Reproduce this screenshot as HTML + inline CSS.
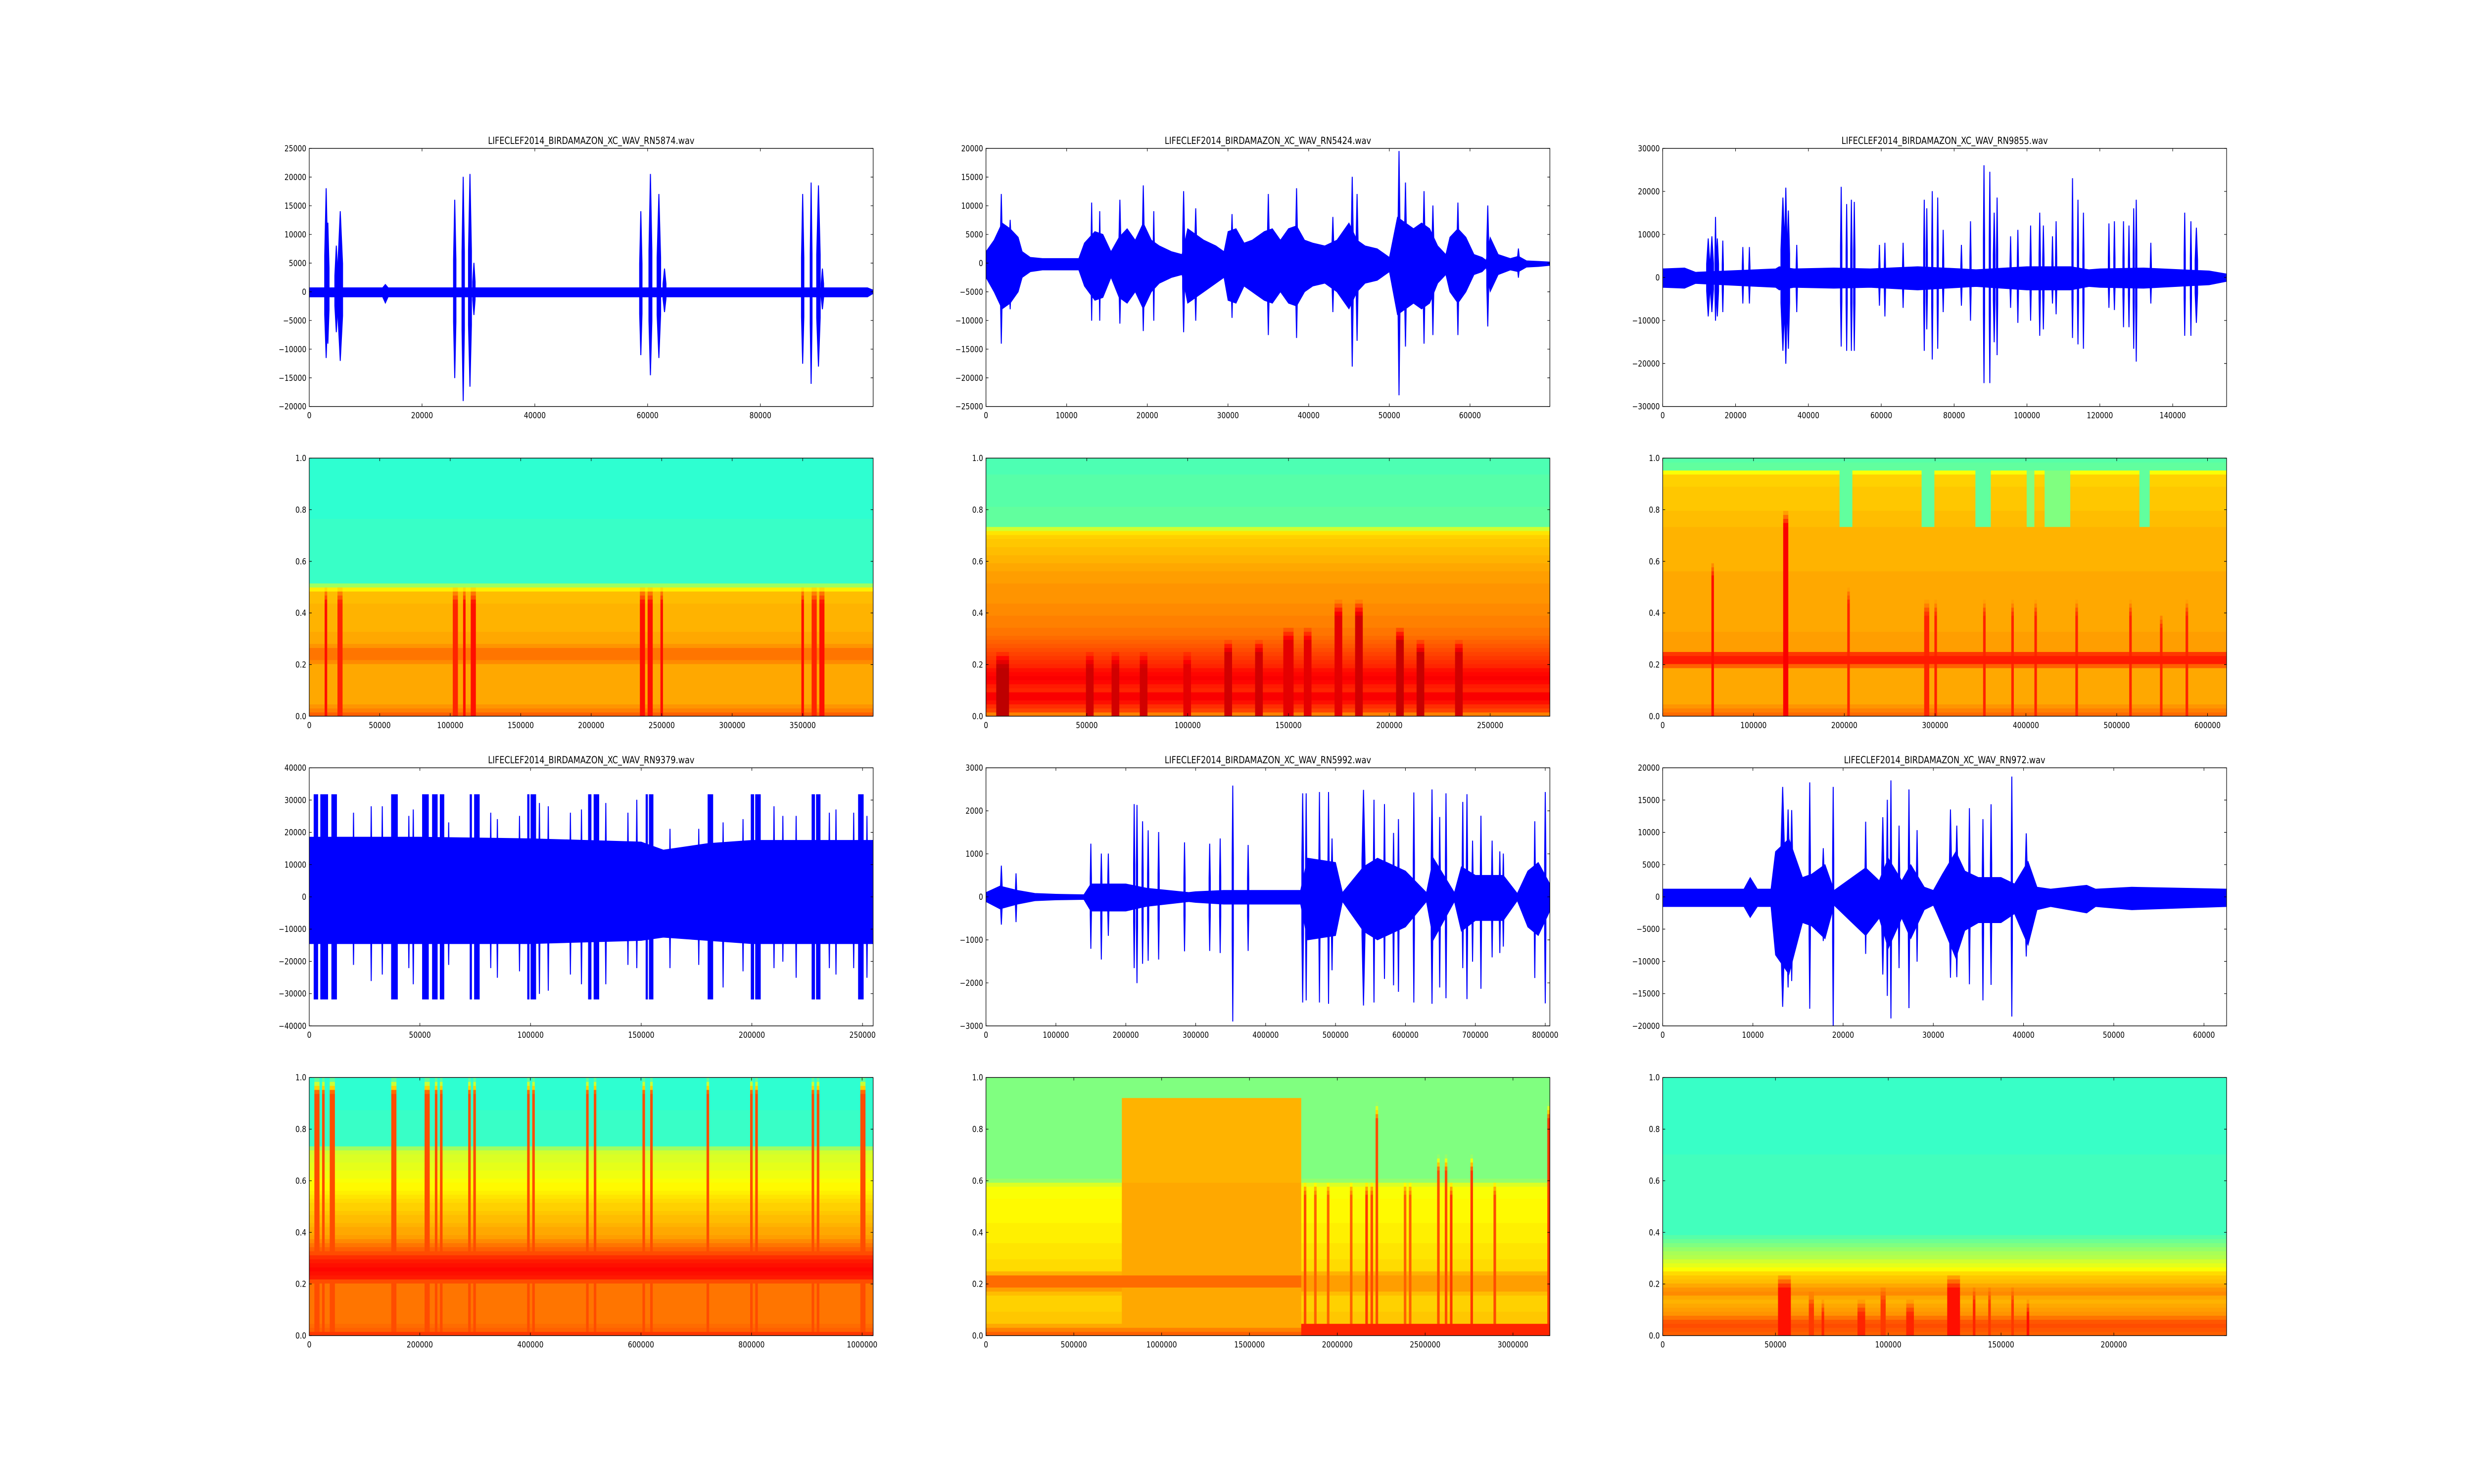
<!DOCTYPE html>
<html><head><meta charset="utf-8"><title>Bird audio waveforms and spectrograms</title>
<style>
html,body{margin:0;padding:0;background:#fff;width:100%;height:100%;overflow:hidden;}
svg{display:block;width:100%;height:100%;}
text{font-family:"DejaVu Sans","Liberation Sans",sans-serif;fill:#000;}
</style></head>
<body>
<svg id="fig" xmlns="http://www.w3.org/2000/svg" viewBox="0 0 6000 3000" preserveAspectRatio="none">
<rect x="0" y="0" width="6000" height="3000" fill="#fff"/>
</svg>
<script>
// ---------- layout ----------
const COLS=[750,2391.2,4032.4], ROWS=[300,926.09,1552.17,2178.26], AW=1367.6, AH=521.74;

// ---------- waveform data ----------
const titles=["LIFECLEF2014_BIRDAMAZON_XC_WAV_RN5874.wav","LIFECLEF2014_BIRDAMAZON_XC_WAV_RN5424.wav","LIFECLEF2014_BIRDAMAZON_XC_WAV_RN9855.wav","LIFECLEF2014_BIRDAMAZON_XC_WAV_RN9379.wav","LIFECLEF2014_BIRDAMAZON_XC_WAV_RN5992.wav","LIFECLEF2014_BIRDAMAZON_XC_WAV_RN972.wav"];

const wave1XMax=100000, wave1Y=[-20000,25000];
const wave1XTicks=[0,20000,40000,60000,80000];
const wave1YTicks=[-20000,-15000,-10000,-5000,0,5000,10000,15000,20000,25000];
const base1X=[0,13000,13500,14000,99000,100000];
const base1Hi=[700,700,1300,700,700,300];
const base1Lo=[-900,-900,-2000,-900,-900,-300];
const ev1C=[3000,3300,4800,5500,25800,27300,28500,29200,58800,60500,62000,63000,87500,89000,90300,91000];
const ev1W=[600,500,600,900,500,500,600,500,500,600,700,600,500,400,700,500];
const ev1Hi=[18000,12000,8000,14000,16000,20000,20500,5000,14000,20500,17000,4000,17000,19000,18500,4000];
const ev1Lo=[-11500,-9000,-7000,-12000,-15000,-19000,-16500,-4000,-11000,-14500,-11500,-3500,-12500,-16000,-13000,-3000];

const wave2XMax=69900, wave2Y=[-25000,20000];
const wave2XTicks=[0,10000,20000,30000,40000,50000,60000];
const wave2YTicks=[-25000,-20000,-15000,-10000,-5000,0,5000,10000,15000,20000];
const base2X=[0,1000,2000,3000,4000,4500,5500,7000,9000,11500,12200,13500,14500,15500,16500,17500,18500,19500,20500,21500,23000,24300,25000,26000,27000,28500,29500,30000,31000,32000,33000,34500,35500,36500,37500,38500,39500,40500,42000,43500,45000,46000,47000,48500,50000,51000,52000,53000,54000,55000,56000,57000,57500,58500,59500,60500,61500,62000,62500,63500,65000,66000,67000,68500,69900];
const base2Hi=[2000,4000,7000,6000,4500,2000,1000,800,800,800,3500,5500,5000,2000,4500,6000,4000,7000,4000,3000,2000,1500,6000,5000,4000,3000,2000,5500,6000,3500,4000,5500,6000,4000,6000,6500,4000,3500,3000,4000,7000,4000,3000,2500,1000,8000,7000,6000,7000,6000,3000,1500,4500,6000,4500,1500,1000,500,4500,1500,800,1200,400,300,200];
const base2Lo=[-2500,-5000,-8000,-7000,-5000,-2500,-1500,-1200,-1200,-1200,-4000,-6500,-6000,-2500,-6000,-7000,-5000,-8000,-5000,-3500,-2500,-2000,-7000,-6000,-5000,-3500,-2500,-6500,-7000,-4000,-5000,-6500,-7000,-5000,-7000,-7500,-5000,-4000,-3500,-5000,-8000,-5000,-3500,-3000,-1500,-9000,-8000,-7000,-8000,-7000,-3500,-2000,-5000,-7000,-5000,-2000,-1500,-800,-5000,-2000,-1200,-1500,-700,-600,-400];
const ev2C=[1900,3000,13100,14100,16600,19500,20800,24500,26000,30500,35000,38500,43000,45400,46000,51200,52000,54300,55400,58500,62200,66000];
const ev2W=[300,400,200,200,300,300,200,300,300,300,300,300,300,300,300,300,300,300,300,300,300,300];
const ev2Hi=[12000,7500,10500,9000,11000,13500,9000,12500,9500,8500,12000,13000,8000,15000,12000,19500,14000,12500,10000,10500,10000,2500];
const ev2Lo=[-14000,-8000,-10000,-10000,-10500,-11800,-10000,-12000,-10000,-9500,-12500,-13000,-8500,-18000,-13500,-23000,-14500,-14000,-12500,-12500,-11000,-2500];

const wave3XMax=154800, wave3Y=[-30000,30000];
const wave3XTicks=[0,20000,40000,60000,80000,100000,120000,140000];
const wave3YTicks=[-30000,-20000,-10000,0,10000,20000,30000];
const base3X=[0,6000,9000,31000,32000,36000,47000,57000,70000,82000,86000,100000,112000,117000,120000,132000,150000,154800];
const base3Hi=[2000,2200,1200,2000,2500,2000,2200,2000,2500,2000,1800,2500,2500,1800,2000,2200,1500,800];
const base3Lo=[-2300,-2500,-1400,-2300,-2900,-2300,-2500,-2300,-2900,-2300,-2100,-2900,-2900,-2100,-2300,-2500,-1700,-900];
const ev3C=[12500,13500,14500,15000,16500,22000,23800,33000,33800,34500,36800,49000,50500,51800,52600,59500,61000,66000,71800,72500,74000,75500,77000,82000,84500,88200,89800,91000,91800,95500,97500,101000,103500,104500,107000,108000,112500,114000,115500,122500,124000,126500,128000,129300,130000,134000,143300,145000,146500];
const ev3W=[1000,1000,300,800,200,200,200,1200,800,800,200,500,300,500,500,200,200,200,400,400,400,400,200,200,200,300,200,600,400,200,200,300,500,500,200,200,300,300,400,200,200,300,300,300,300,200,300,300,800];
const ev3Hi=[9000,9500,14000,9000,8500,7000,7000,18500,20800,15500,7500,21000,17000,18000,17500,7500,8000,8000,18000,16000,20000,18500,11000,7500,13000,26000,24500,15000,18500,9500,11000,12000,15000,12000,9500,13000,23000,18000,15000,12500,13000,13000,12000,16000,18000,8000,15000,13000,11500];
const ev3Lo=[-9000,-8000,-10000,-9000,-8000,-6000,-6000,-17000,-20000,-16500,-8000,-16000,-17000,-17000,-17000,-6500,-9000,-7000,-17000,-12000,-19000,-16500,-8000,-6500,-10000,-24500,-24500,-15000,-18000,-7000,-10500,-10000,-13500,-12000,-6000,-8500,-14000,-15500,-16500,-7000,-7500,-11500,-11500,-16500,-19500,-6000,-13500,-13500,-10500];

const wave4XMax=254800, wave4Y=[-40000,40000];
const wave4XTicks=[0,50000,100000,150000,200000,250000];
const wave4YTicks=[-40000,-30000,-20000,-10000,0,10000,20000,30000,40000];
const base4X=[0,50000,100000,150000,160000,180000,200000,254800];
const base4Hi=[18500,18500,18000,17000,14500,16500,17500,17500];
const base4Lo=[-14500,-14500,-14500,-13500,-12500,-13500,-14500,-14500];
const clip4Start=[2000,5000,10000,37000,51000,55500,59000,72500,74500,98500,100000,126000,128500,152000,153500,180000,199500,201500,227000,229000,248000];
const clip4End=[4000,8500,12500,40000,54000,58000,61000,73500,77000,99500,102500,127500,131000,153000,155500,182500,201000,204000,228500,231000,250500];
const ev4C=[20000,28000,33000,45000,47000,63000,82000,85000,95000,104000,108000,118000,123000,134000,144000,148000,163000,176000,187000,196000,210000,214000,220000,235000,238000,246000,252000];
const ev4W=[400,400,400,400,400,400,400,400,400,400,400,400,400,400,400,400,400,400,400,400,400,400,400,400,400,400,400];
const ev4Hi=[26000,28000,28000,25000,27000,23000,26000,24000,25000,29000,28000,26000,27000,29000,26000,30000,21000,21000,23000,24000,28000,25000,25000,26000,27000,26000,25000];
const ev4Lo=[-21000,-26000,-24000,-22000,-27000,-21000,-22000,-25000,-23000,-30000,-29000,-24000,-27000,-27000,-21000,-22000,-22000,-21000,-28000,-23000,-22000,-20000,-25000,-22000,-24000,-22000,-25000];

const wave5XMax=806600, wave5Y=[-3000,3000];
const wave5XTicks=[0,100000,200000,300000,400000,500000,600000,700000,800000];
const wave5YTicks=[-3000,-2000,-1000,0,1000,2000,3000];
const base5X=[0,20000,45000,70000,100000,140000,150000,200000,230000,290000,300000,340000,400000,450000,460000,500000,510000,540000,560000,600000,630000,640000,670000,680000,700000,740000,760000,775000,790000,806600];
const base5Hi=[100,250,150,80,60,50,300,300,200,100,120,150,150,150,900,800,100,700,900,600,100,900,100,700,500,500,80,600,800,300];
const base5Lo=[-110,-280,-170,-90,-70,-60,-330,-330,-220,-110,-130,-170,-170,-170,-1000,-900,-110,-800,-1000,-700,-110,-1000,-110,-800,-550,-550,-90,-700,-900,-330];
const ev5C=[22000,43000,150000,165000,175000,212000,216000,224000,232000,247000,284000,320000,335000,353000,375000,453000,458000,477000,490000,495000,540000,555000,570000,583000,590000,612000,638000,649000,658000,682000,688000,696000,708000,724000,735000,740000,785000,800000];
const ev5W=[3000,2000,2000,2000,2000,1500,1500,1500,1500,1500,1500,2000,2000,1200,1500,3000,2000,2000,2000,3000,5000,2000,2000,2000,2000,1500,3000,2000,1500,1500,2500,1500,1500,2000,2000,2000,2000,2500];
const ev5Hi=[720,540,1230,1000,1000,2150,2130,1750,1540,1500,1260,1230,1350,2580,1200,2400,2400,2430,2430,1350,2480,2250,2150,1480,1800,2420,2490,1850,2400,2200,2380,1300,1880,1300,1050,1000,1750,2430];
const ev5Lo=[-640,-580,-1200,-1450,-900,-1650,-2000,-1550,-1480,-1450,-1260,-1250,-1300,-2890,-1250,-2450,-2400,-2450,-2480,-1700,-2520,-2450,-1900,-2050,-2200,-2450,-2480,-2100,-2350,-1650,-2370,-1500,-2130,-1400,-1300,-1150,-1880,-2470];

const wave6XMax=62510, wave6Y=[-20000,20000];
const wave6XTicks=[0,10000,20000,30000,40000,50000,60000];
const wave6YTicks=[-20000,-15000,-10000,-5000,0,5000,10000,15000,20000];
const base6X=[0,9000,9700,10500,12000,12500,14000,15500,16500,18000,19000,21000,22500,24000,25000,26500,27500,29000,30000,31000,32500,33500,35000,36500,37500,39000,40500,41500,43000,47000,48000,52000,62510];
const base6Hi=[1200,1200,3000,1200,1200,7000,9000,3000,3500,5000,1000,3000,4500,2500,6000,2500,5000,1500,1000,3500,7000,4000,3000,3000,3000,2000,5500,1500,1200,1800,1200,1500,1200];
const base6Lo=[-1500,-1500,-3200,-1500,-1500,-9000,-12000,-4000,-4500,-6500,-1300,-4000,-6000,-3300,-8000,-3300,-6500,-2000,-1300,-4500,-9500,-5200,-4000,-4000,-4000,-2600,-7500,-2000,-1500,-2500,-1500,-2000,-1500];
const ev6C=[13300,13900,14300,16300,17800,18900,22500,24400,24900,25300,26200,27300,28200,31900,32600,34000,35500,36400,38700,40300];
const ev6W=[500,400,300,200,300,150,200,300,200,150,200,200,200,300,300,200,200,200,150,300];
const ev6Hi=[17000,13500,13400,17700,7500,17000,11600,12300,15000,18000,11000,16600,10300,13500,11000,13700,12000,14300,18600,9800];
const ev6Lo=[-17000,-14000,-13000,-17300,-6800,-20000,-8800,-12000,-15300,-18800,-11000,-17200,-10000,-12500,-12400,-13500,-16000,-13600,-18500,-9200];

// ---------- spectrogram data ----------
const specYTicks=[0,0.2,0.4,0.6,0.8,1.0];

const spec1XMax=400000, spec1XTicks=[0,50000,100000,150000,200000,250000,300000,350000];
const spec1F=[0,0.02,0.05,0.2,0.22,0.26,0.28,0.48,0.5,0.52,1.0];
const spec1V=[0.79,0.76,0.71,0.71,0.76,0.76,0.71,0.69,0.6,0.43,0.42];
const spec1SX=[12000,22000,104000,110000,116000,236000,242000,250000,350000,358000,364000];
const spec1SW=[3000,3000,3000,3000,3000,3000,3000,3000,3000,3000,3000];
const spec1ST=[0.5,0.5,0.5,0.5,0.5,0.5,0.5,0.5,0.5,0.5,0.5];
const spec1SV=[0.86,0.84,0.84,0.86,0.86,0.86,0.86,0.86,0.86,0.84,0.86];
const spec1R=[];

const spec2XMax=279600, spec2XTicks=[0,50000,100000,150000,200000,250000];
const spec2F=[0,0.02,0.05,0.08,0.1,0.15,0.2,0.25,0.3,0.4,0.55,0.7,0.72,0.74,1];
const spec2V=[0.72,0.8,0.85,0.89,0.84,0.88,0.84,0.81,0.77,0.74,0.72,0.67,0.64,0.47,0.45];
const spec2SX=[8000,52000,64000,78000,100000,120000,135000,150000,160000,175000,185000,205000,215000,235000];
const spec2SW=[6000,4000,4000,4000,4000,4000,4000,4000,4000,4000,4000,4000,4000,4000];
const spec2ST=[0.25,0.25,0.25,0.25,0.25,0.3,0.3,0.35,0.35,0.45,0.45,0.35,0.3,0.3];
const spec2SV=[0.94,0.92,0.92,0.92,0.9,0.92,0.92,0.9,0.9,0.9,0.92,0.93,0.93,0.92];
const spec2R=[];

const spec3XMax=621000, spec3XTicks=[0,100000,200000,300000,400000,500000,600000];
const spec3F=[0,0.03,0.05,0.19,0.2,0.24,0.25,0.4,0.73,0.74,0.94,0.96,1];
const spec3V=[0.78,0.74,0.71,0.71,0.85,0.85,0.72,0.71,0.7,0.69,0.67,0.47,0.46];
const spec3SX=[55000,135000,205000,290000,300000,355000,385000,410000,455000,515000,550000,578000];
const spec3SW=[4000,4000,4000,5000,4000,3000,3000,3000,3000,3000,3000,3000];
const spec3ST=[0.6,0.8,0.5,0.45,0.45,0.45,0.45,0.45,0.45,0.45,0.4,0.45];
const spec3SV=[0.86,0.88,0.84,0.84,0.84,0.84,0.84,0.84,0.84,0.84,0.84,0.84];
const spec3R=[[195000,210000,0.73,0.95,0.47],[285000,300000,0.73,0.95,0.47],[345000,360000,0.73,0.95,0.47],[400000,410000,0.73,0.95,0.5],[420000,450000,0.73,0.95,0.5],[525000,535000,0.73,0.95,0.47]];

const spec4XMax=1020000, spec4XTicks=[0,200000,400000,600000,800000,1000000];
const spec4F=[0,0.02,0.05,0.2,0.22,0.25,0.3,0.32,0.38,0.5,0.6,0.72,0.74,1];
const spec4V=[0.84,0.78,0.76,0.76,0.84,0.87,0.84,0.8,0.72,0.67,0.62,0.58,0.43,0.42];
const spec4SX=[10000,17000,25000,40000,45000,150000,157000,210000,215000,228000,240000,290000,300000,398000,405000,505000,515000,607000,618000,722000,800000,810000,910000,918000,1000000,1005000];
const spec4SW=[3000,3000,3000,3000,3000,3000,3000,3000,3000,3000,3000,3000,3000,3000,3000,3000,3000,3000,3000,3000,3000,3000,3000,3000,3000,3000];
const spec4ST=[1,1,1,1,1,1,1,1,1,1,1,1,1,1,1,1,1,1,1,1,1,1,1,1,1,1];
const spec4SV=[0.8,0.8,0.8,0.8,0.8,0.8,0.8,0.8,0.8,0.8,0.8,0.8,0.8,0.8,0.8,0.8,0.8,0.8,0.8,0.8,0.8,0.8,0.8,0.8,0.8,0.8];
const spec4R=[];

const spec5XMax=3210000, spec5XTicks=[0,500000,1000000,1500000,2000000,2500000,3000000];
const spec5F=[0,0.03,0.05,0.15,0.18,0.23,0.26,0.4,0.58,0.6,0.62,1];
const spec5V=[0.8,0.74,0.68,0.67,0.72,0.72,0.66,0.64,0.62,0.52,0.5,0.5];
const spec5SX=[1820000,1870000,1950000,2080000,2170000,2200000,2220000,2380000,2420000,2570000,2620000,2650000,2760000,2900000,3200000];
const spec5SW=[10000,10000,10000,10000,14000,10000,10000,10000,10000,10000,10000,14000,14000,10000,10000];
const spec5ST=[0.6,0.6,0.6,0.6,0.6,0.6,0.9,0.6,0.6,0.7,0.7,0.6,0.7,0.6,0.9];
const spec5SV=[0.8,0.78,0.78,0.78,0.82,0.8,0.8,0.78,0.78,0.8,0.8,0.82,0.82,0.8,0.82];
const spec5R=[[780000,1800000,0.05,0.6,0.71],[780000,1800000,0.6,0.92,0.7],[0,1800000,0.18,0.23,0.77],[1800000,3210000,0,0.04,0.84]];

const spec6XMax=250000, spec6XTicks=[0,50000,100000,150000,200000];
const spec6F=[0,0.05,0.08,0.1,0.14,0.17,0.2,0.23,0.26,0.3,0.35,0.4,1];
const spec6V=[0.78,0.8,0.74,0.72,0.7,0.75,0.7,0.68,0.62,0.56,0.5,0.44,0.43];
const spec6SX=[54000,66000,71000,88000,98000,110000,129000,138000,145000,155000,162000];
const spec6SW=[6000,2000,2000,3000,2000,3000,6000,2000,2000,2000,2000];
const spec6ST=[0.24,0.17,0.14,0.14,0.19,0.14,0.24,0.19,0.19,0.19,0.14];
const spec6SV=[0.86,0.82,0.84,0.84,0.82,0.84,0.86,0.84,0.82,0.82,0.86];
const spec6R=[];

// ---------- helpers ----------
const NS="http://www.w3.org/2000/svg";
const fig=document.getElementById('fig');
function mk(tag,attrs,parent){const e=document.createElementNS(NS,tag);for(const k in attrs)e.setAttribute(k,attrs[k]);(parent||fig).appendChild(e);return e;}
function fmtNum(v){return v<0?'\u2212'+(-v):String(v);}
function jet(v){v=Math.max(0,Math.min(1,v));const c=x=>Math.round(255*Math.max(0,Math.min(1,x)));
  return 'rgb('+c(1.5-Math.abs(4*v-3))+','+c(1.5-Math.abs(4*v-2))+','+c(1.5-Math.abs(4*v-1))+')';}
function interp(xs,ys,x){if(x<=xs[0])return ys[0];for(let i=1;i<xs.length;i++){if(x<=xs[i]){const t=(x-xs[i-1])/(xs[i]-xs[i-1]);return ys[i-1]+t*(ys[i]-ys[i-1]);}}return ys[ys.length-1];}
let clipId=0;

function makeAxes(key,L,T,xmax,ymin,ymax){
  const g=mk('g',{});
  
  
  const id='clip'+(clipId++);
  const cp=mk('clipPath',{id:id},g);
  mk('rect',{x:L,y:T,width:AW,height:AH},cp);
  const marks=mk('g',{'clip-path':'url(#'+id+')'},g);
  
  
  return {g,marks,L,T,sx:v=>L+v/xmax*AW,sy:v=>T+(ymax-v)/(ymax-ymin)*AH};
}
function finishAxes(ax,key,xt,yt,yfmt,title){
  const {g,L,T,sx,sy}=ax;
  const fr=mk('rect',{x:L,y:T,width:AW,height:AH,fill:'none',stroke:'#000','stroke-width':1.4},g);
  
  
  xt.forEach(v=>{const x=sx(v);
    const t1=mk('path',{d:'M'+x+' '+(T+AH)+'V'+(T+AH-6)+'M'+x+' '+T+'V'+(T+6),stroke:'#000','stroke-width':1.2},g);
    
    
    const lb=mk('text',{x:x,y:T+AH+24,'text-anchor':'middle','font-size':16.7},g);
    lb.textContent=fmtNum(v);
    
    
  });
  yt.forEach(v=>{const y=sy(v);
    const t2=mk('path',{d:'M'+L+' '+y+'H'+(L+6)+'M'+(L+AW)+' '+y+'H'+(L+AW-6),stroke:'#000','stroke-width':1.2},g);
    
    
    const lb=mk('text',{x:L-7,y:y+6,'text-anchor':'end','font-size':16.7},g);
    lb.textContent=yfmt(v);
    
    
  });
  if(title){
    const tt=mk('text',{x:L+AW/2,y:T-9,'text-anchor':'middle','font-size':19.4},g);
    tt.textContent=title;
    
    
  }
}

function drawWave(key,col,row,xmax,yr,xt,yt,bx,bh,bl,ec,ew,eh,el,title,clipS,clipE){
  const ax=makeAxes(key,COLS[col],ROWS[row],xmax,yr[0],yr[1]);
  const {sx,sy,marks}=ax;
  let pts=[];
  for(let i=0;i<bx.length;i++)pts.push(sx(bx[i]).toFixed(1)+','+sy(bh[i]).toFixed(1));
  for(let i=bx.length-1;i>=0;i--)pts.push(sx(bx[i]).toFixed(1)+','+sy(bl[i]).toFixed(1));
  const bp=mk('polygon',{points:pts.join(' '),fill:'#0000ff',stroke:'#0000ff','stroke-width':1.5},marks);
  
  
  if(clipS){for(let i=0;i<clipS.length;i++){
    const x0=sx(clipS[i]),x1=sx(clipE[i]);
    const r=mk('rect',{x:x0,y:sy(31800),width:Math.max(2,x1-x0),height:sy(-31800)-sy(31800),fill:'#0000ff'},marks);
    
    
  }}
  const n=Math.min(ec.length,ew.length,eh.length,el.length);
  for(let i=0;i<n;i++){
    const c=sx(ec[i]);const hw=Math.max(2,(sx(ew[i])-sx(0))/2);
    const yh=sy(eh[i]),yl=sy(el[i]),yh3=sy(eh[i]*0.35),yl3=sy(el[i]*0.35);
    const p=[(c-hw)+','+yh3,(c-0.6)+','+yh,(c+0.6)+','+yh,(c+hw)+','+yh3,(c+hw)+','+yl3,(c+0.6)+','+yl,(c-0.6)+','+yl,(c-hw)+','+yl3];
    const e=mk('polygon',{points:p.join(' '),fill:'#0000ff',stroke:'#0000ff','stroke-width':1.2},marks);
    
    
  }
  finishAxes(ax,key,xt,yt,fmtNum,title);
}

function drawSpec(key,col,row,xmax,xt,F,V,SX,SW,ST,SV,R){
  const ax=makeAxes(key,COLS[col],ROWS[row],xmax,0,1);
  const {sx,sy,marks}=ax;
  const NC=220,NR=64;const cw=xmax/NC;
  const ns=Math.min(SX.length,SW.length,ST.length,SV.length);
  for(let r=0;r<NR;r++){
    const f=(r+0.5)/NR;const base=interp(F,V,f);
    let runStart=0,runVal=null;
    const flush=(endC)=>{
      const x0=sx(runStart*cw),x1=sx(endC*cw);
      const cell=mk('rect',{x:x0.toFixed(1),y:sy((r+1)/NR).toFixed(1),width:(x1-x0+0.6).toFixed(1),height:(AH/NR+0.6).toFixed(1),fill:jet(runVal)},marks);
      
      
    };
    for(let c=0;c<NC;c++){
      const x=(c+0.5)*cw;let v=base;
      for(const reg of R){if(x>=reg[0]&&x<reg[1]&&f>=reg[2]&&f<reg[3])v=reg[4];}
      for(let i=0;i<ns;i++){
        if(Math.abs(x-SX[i])<=Math.max(SW[i]/2,cw/2)&&f<ST[i]){
          const fade=Math.min(1,(ST[i]-f)/0.06);const sv=v+(SV[i]-v)*fade;if(sv>v)v=sv;}
      }
      v=Math.round(v*100)/100;
      if(runVal===null){runVal=v;runStart=c;}
      else if(v!==runVal){flush(c);runVal=v;runStart=c;}
    }
    flush(NC);
  }
  finishAxes(ax,key,xt,specYTicks,v=>v.toFixed(1),null);
}

// ---------- draw ----------
drawWave('waveform-rn5874',0,0,wave1XMax,wave1Y,wave1XTicks,wave1YTicks,base1X,base1Hi,base1Lo,ev1C,ev1W,ev1Hi,ev1Lo,titles[0]);
drawWave('waveform-rn5424',1,0,wave2XMax,wave2Y,wave2XTicks,wave2YTicks,base2X,base2Hi,base2Lo,ev2C,ev2W,ev2Hi,ev2Lo,titles[1]);
drawWave('waveform-rn9855',2,0,wave3XMax,wave3Y,wave3XTicks,wave3YTicks,base3X,base3Hi,base3Lo,ev3C,ev3W,ev3Hi,ev3Lo,titles[2]);
drawWave('waveform-rn9379',0,2,wave4XMax,wave4Y,wave4XTicks,wave4YTicks,base4X,base4Hi,base4Lo,ev4C,ev4W,ev4Hi,ev4Lo,titles[3],clip4Start,clip4End);
drawWave('waveform-rn5992',1,2,wave5XMax,wave5Y,wave5XTicks,wave5YTicks,base5X,base5Hi,base5Lo,ev5C,ev5W,ev5Hi,ev5Lo,titles[4]);
drawWave('waveform-rn972',2,2,wave6XMax,wave6Y,wave6XTicks,wave6YTicks,base6X,base6Hi,base6Lo,ev6C,ev6W,ev6Hi,ev6Lo,titles[5]);

drawSpec('spectrogram-rn5874',0,1,spec1XMax,spec1XTicks,spec1F,spec1V,spec1SX,spec1SW,spec1ST,spec1SV,spec1R);
drawSpec('spectrogram-rn5424',1,1,spec2XMax,spec2XTicks,spec2F,spec2V,spec2SX,spec2SW,spec2ST,spec2SV,spec2R);
drawSpec('spectrogram-rn9855',2,1,spec3XMax,spec3XTicks,spec3F,spec3V,spec3SX,spec3SW,spec3ST,spec3SV,spec3R);
drawSpec('spectrogram-rn9379',0,3,spec4XMax,spec4XTicks,spec4F,spec4V,spec4SX,spec4SW,spec4ST,spec4SV,spec4R);
drawSpec('spectrogram-rn5992',1,3,spec5XMax,spec5XTicks,spec5F,spec5V,spec5SX,spec5SW,spec5ST,spec5SV,spec5R);
drawSpec('spectrogram-rn972',2,3,spec6XMax,spec6XTicks,spec6F,spec6V,spec6SX,spec6SW,spec6ST,spec6SV,spec6R);
</script>
</body></html>
